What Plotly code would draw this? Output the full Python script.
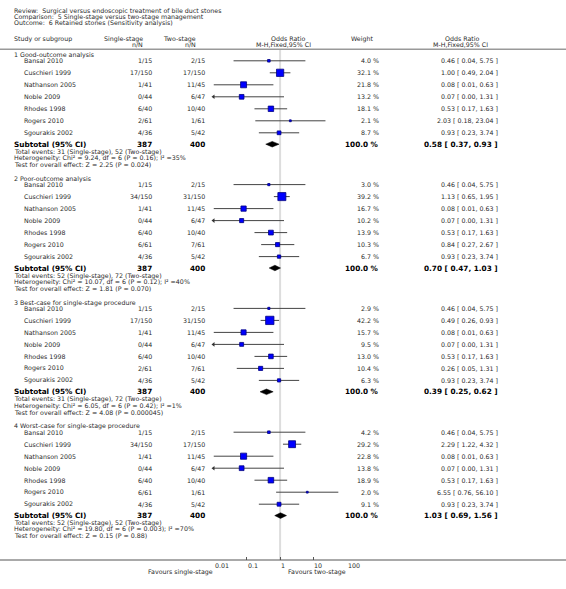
import math
import plotly.graph_objects as go

W, H = 566, 589

title_lines = ["Review:  Surgical versus endoscopic treatment of bile duct stones",
               "Comparison:  5 Single-stage versus two-stage management",
               "Outcome:  6 Retained stones (Sensitivity analysis)"]

studies = ["Bansal 2010", "Cuschieri 1999", "Nathanson 2005", "Noble 2009",
           "Rhodes 1998", "Rogers 2010", "Sgourakis 2002"]
single_N = [15, 150, 41, 44, 40, 61, 36]
two_N = [15, 150, 45, 47, 40, 61, 42]

group_names = ["1 Good-outcome analysis", "2 Poor-outcome analysis",
               "3 Best-case for single-stage procedure",
               "4 Worst-case for single-stage procedure"]

single_events = [[1, 17, 1, 0, 6, 2, 4],
                 [1, 34, 1, 0, 6, 6, 4],
                 [1, 17, 1, 0, 6, 2, 4],
                 [1, 34, 1, 0, 6, 6, 4]]
two_events = [[2, 17, 11, 6, 10, 1, 5],
              [2, 31, 11, 6, 10, 7, 5],
              [2, 31, 11, 6, 10, 7, 5],
              [2, 17, 11, 6, 10, 1, 5]]
weights = [[4.0, 32.1, 21.8, 13.2, 18.1, 2.1, 8.7],
           [3.0, 39.2, 16.7, 10.2, 13.9, 10.3, 6.7],
           [2.9, 42.2, 15.7, 9.5, 13.0, 10.4, 6.3],
           [4.2, 29.2, 22.8, 13.8, 18.9, 2.0, 9.1]]
or_est = [[0.46, 1.00, 0.08, 0.07, 0.53, 2.03, 0.93],
          [0.46, 1.13, 0.08, 0.07, 0.53, 0.84, 0.93],
          [0.46, 0.49, 0.08, 0.07, 0.53, 0.26, 0.93],
          [0.46, 2.29, 0.08, 0.07, 0.53, 6.55, 0.93]]
or_lo = [[0.04, 0.49, 0.01, 0.00, 0.17, 0.18, 0.23],
         [0.04, 0.65, 0.01, 0.00, 0.17, 0.27, 0.23],
         [0.04, 0.26, 0.01, 0.00, 0.17, 0.05, 0.23],
         [0.04, 1.22, 0.01, 0.00, 0.17, 0.76, 0.23]]
or_hi = [[5.75, 2.04, 0.63, 1.31, 1.63, 23.04, 3.74],
         [5.75, 1.95, 0.63, 1.31, 1.63, 2.67, 3.74],
         [5.75, 0.93, 0.63, 1.31, 1.63, 1.31, 3.74],
         [5.75, 4.32, 0.63, 1.31, 1.63, 56.10, 3.74]]

sub_single_total = [387, 387, 387, 387]
sub_two_total = [400, 400, 400, 400]
sub_or = [0.58, 0.70, 0.39, 1.03]
sub_lo = [0.37, 0.47, 0.25, 0.69]
sub_hi = [0.93, 1.03, 0.62, 1.56]
tot_single_events = [31, 52, 31, 52]
tot_two_events = [52, 72, 72, 52]
het_chi = ["9.24", "10.07", "6.05", "19.80"]
het_df = [6, 6, 6, 6]
het_p = ["0.16", "0.12", "0.42", "0.003"]
het_i2 = ["35", "40", "1", "70"]
z_val = ["2.25", "1.81", "4.08", "0.15"]
z_p = ["0.024", "0.070", "0.000045", "0.88"]

axis_ticks = [0.01, 0.1, 1, 10, 100]
axis_tick_labels = ["0.01", "0.1", "1", "10", "100"]
favours_left = "Favours single-stage"
favours_right = "Favours two-stage"

# ---------------- layout geometry (pixels) ----------------
AX_MIN, AX_MAX = 0.01, 100
FX0, FX1 = 213.5, 346.7          # forest axis pixel extent
GROUP_STEP = 123.8
HEAD_Y = 55.0
STUDY0_Y = 60.8
ROW = 12.0
SUB_Y = 144.2
TOT_Y, HET_Y, TEST_Y = 151.8, 158.0, 164.4
AXIS_Y = 560.0

FONT = "DejaVu Sans"
TXT = "#2a2a2a"
FS = 6.3
FSB = 7.3

annotations = []


def txt(x, y, s, anchor="left", size=FS, bold=False, color=TXT):
    annotations.append(dict(
        x=x, y=y, xref="x", yref="y", text=("<b>%s</b>" % s) if bold else s,
        showarrow=False, xanchor=anchor, yanchor="middle", borderpad=0,
        font=dict(family=FONT, size=size, color="#000000" if bold else color)))


# titles
for i, t in enumerate(title_lines):
    txt(13.3, 10.8 + 6.3 * i, t)

# column headers
txt(13.3, 39.3, "Study or subgroup")
txt(144, 38.8, "Single-stage", "right")
txt(144, 44.3, "n/N", "right")
txt(197, 38.8, "Two-stage", "right")
txt(197, 44.3, "n/N", "right")
txt(288.5, 38.8, "Odds Ratio", "center")
txt(283.5, 44.3, "M-H,Fixed,95% CI", "center")
txt(361.5, 38.8, "Weight", "center")
txt(462, 38.8, "Odds Ratio", "center")
txt(460.5, 44.3, "M-H,Fixed,95% CI", "center")

ci_x, ci_y = [], []
sq_x, sq_y, sq_s = [], [], []
arr_x, arr_y = [], []
diamonds = []

for g in range(4):
    off = GROUP_STEP * g
    txt(13.3, HEAD_Y + off, group_names[g])
    for i, name in enumerate(studies):
        y = STUDY0_Y + off + ROW * i
        txt(23.3, y, name)
        txt(152.7, y, "%d/%d" % (single_events[g][i], single_N[i]), "right")
        txt(206, y, "%d/%d" % (two_events[g][i], two_N[i]), "right")
        txt(380, y, "%.1f %%" % weights[g][i], "right")
        txt(499, y, "%.2f [ %.2f, %.2f ]" % (or_est[g][i], or_lo[g][i], or_hi[g][i]), "right")
        lo = max(or_lo[g][i], AX_MIN)
        hi = min(or_hi[g][i], AX_MAX)
        ci_x += [lo, hi, None]
        ci_y += [y, y, None]
        if or_lo[g][i] < AX_MIN:
            arr_x.append(AX_MIN)
            arr_y.append(y)
        sq_x.append(or_est[g][i])
        sq_y.append(y)
        sq_s.append(1.28 * math.sqrt(weights[g][i]))
    ys = SUB_Y + off
    txt(13.3, ys, "Subtotal (95% CI)", size=FSB, bold=True)
    txt(152.7, ys, str(sub_single_total[g]), "right", size=FSB, bold=True)
    txt(206, ys, str(sub_two_total[g]), "right", size=FSB, bold=True)
    txt(380, ys, "100.0 %", "right", size=FSB, bold=True)
    txt(499, ys, "%.2f [ %.2f, %.2f ]" % (sub_or[g], sub_lo[g], sub_hi[g]), "right", size=FSB, bold=True)
    txt(13.3, TOT_Y + off, "Total events: %d (Single-stage), %d (Two-stage)" % (tot_single_events[g], tot_two_events[g]))
    txt(13.3, HET_Y + off, "Heterogeneity: Chi² = %s, df = %d (P = %s); I² =%s%%" % (het_chi[g], het_df[g], het_p[g], het_i2[g]))
    txt(13.3, TEST_Y + off, "Test for overall effect: Z = %s (P = %s)" % (z_val[g], z_p[g]))
    diamonds.append((ys, sub_lo[g], sub_or[g], sub_hi[g]))

# axis tick labels and favours labels
for v, lab in zip(axis_ticks, axis_tick_labels):
    annotations.append(dict(x=math.log10(v), y=565.0, xref="x2", yref="y", text=lab, showarrow=False,
                            xanchor="left", yanchor="middle", borderpad=0,
                            font=dict(family=FONT, size=FS, color=TXT)))
txt(FX0, 571.5, favours_left, "right")
txt(FX1, 571.5, favours_right, "right")

fig = go.Figure()
# invisible anchor trace for pixel axes
fig.add_trace(go.Scatter(x=[0, W], y=[0, H], mode="markers", marker=dict(opacity=0),
                         hoverinfo="skip", showlegend=False, xaxis="x", yaxis="y"))
fig.add_trace(go.Scatter(x=ci_x, y=ci_y, mode="lines", line=dict(color="#444444", width=1),
                         hoverinfo="skip", showlegend=False, xaxis="x2", yaxis="y"))
fig.add_trace(go.Scatter(x=arr_x, y=arr_y, mode="markers", cliponaxis=False,
                         marker=dict(symbol="triangle-left", size=4, color="#333333", opacity=1),
                         hoverinfo="skip", showlegend=False, xaxis="x2", yaxis="y"))
fig.add_trace(go.Scatter(x=sq_x, y=sq_y, mode="markers",
                         marker=dict(symbol="square", size=sq_s, color="#0000ff", opacity=1,
                                     line=dict(color="#000080", width=0.8)),
                         hoverinfo="skip", showlegend=False, xaxis="x2", yaxis="y"))
for ys, lo, est, hi in diamonds:
    fig.add_trace(go.Scatter(x=[lo, est, hi, est, lo], y=[ys, ys - 2.8, ys, ys + 2.8, ys],
                             mode="lines", fill="toself", fillcolor="#000000",
                             line=dict(color="#000000", width=0.5),
                             hoverinfo="skip", showlegend=False, xaxis="x2", yaxis="y"))

shapes = [
    dict(type="line", xref="x", yref="y", x0=0, x1=W, y0=49.3, y1=49.3,
         line=dict(color="#999999", width=1.5)),
    dict(type="line", xref="x", yref="y", x0=0, x1=W, y0=AXIS_Y, y1=AXIS_Y,
         line=dict(color="#555555", width=1)),
    dict(type="line", xref="x2", yref="y", x0=1, x1=1, y0=49.5, y1=AXIS_Y, layer="below",
         line=dict(color="#dddddd", width=2)),
]

fig.update_layout(
    width=W, height=H, margin=dict(l=0, r=0, t=0, b=0),
    paper_bgcolor="white", plot_bgcolor="rgba(0,0,0,0)",
    showlegend=False,
    xaxis=dict(range=[0, W], domain=[0, 1], visible=False, fixedrange=True),
    xaxis2=dict(type="log", range=[math.log10(AX_MIN), math.log10(AX_MAX)],
                domain=[FX0 / W, FX1 / W], anchor="free", position=1 - AXIS_Y / H,
                showline=False, showgrid=False, zeroline=False,
                ticks="inside", ticklen=3, tickcolor="#555555", tickwidth=1,
                tickvals=axis_ticks, showticklabels=False, fixedrange=True),
    yaxis=dict(range=[H, 0], domain=[0, 1], visible=False, fixedrange=True),
    annotations=annotations, shapes=shapes,
)

fig.write_html("out.html", config={"displayModeBar": False},
               post_script="document.body.style.margin='0';")
